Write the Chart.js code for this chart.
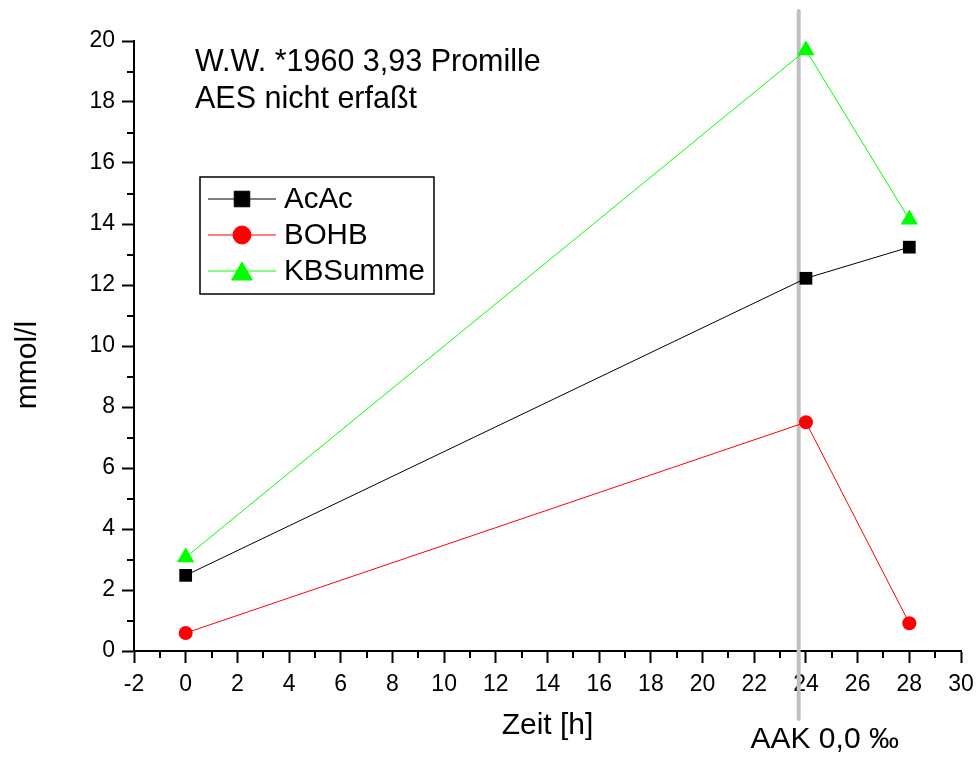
<!DOCTYPE html>
<html>
<head>
<meta charset="utf-8">
<script src="https://cdn.jsdelivr.net/npm/chart.js@4.4.1/dist/chart.umd.min.js"></script>
<style>
  html, body { margin: 0; padding: 0; background: #fff; }
  #wrap { width: 978px; height: 758px; }
</style>
</head>
<body>
<div id="wrap"><canvas id="ketoneChart" width="978" height="758"></canvas></div>
<script>
const zeit = [0, 24, 28];
const acac = [2.48, 12.22, 13.24];
const bohb = [0.59, 7.5, 0.91];
const kbSumme = [3.07, 19.7, 14.15];
const markerZeit = 23.72;
const markerLabel = 'AAK 0,0 ‰';
const notes = ['W.W. *1960 3,93 Promille', 'AES nicht erfaßt'];

const FONT = '"Liberation Sans", Arial, sans-serif';

function pts(ys) {
  return zeit.map((x, i) => ({ x: x, y: ys[i] }));
}

// minor ticks, the AAK marker line, text notes, legend box, y title
const extras = {
  id: 'extras',
  beforeDatasetsDraw(chart) {
    const { ctx, scales: { x } } = chart;
    const px = x.getPixelForValue(markerZeit);
    ctx.save();
    ctx.strokeStyle = '#c0c0c0';
    ctx.lineWidth = 4;
    ctx.lineCap = 'round';
    ctx.beginPath();
    ctx.moveTo(px, 11);
    ctx.lineTo(px, 719);
    ctx.stroke();
    ctx.restore();
  },
  afterDraw(chart) {
    const { ctx, scales: { x, y }, chartArea } = chart;
    ctx.save();
    ctx.strokeStyle = '#000';
    ctx.lineWidth = 2;
    ctx.beginPath();
    for (let v = -1; v < 30; v += 2) {
      const px = Math.round(x.getPixelForValue(v));
      ctx.moveTo(px, chartArea.bottom);
      ctx.lineTo(px, chartArea.bottom + 7);
    }
    for (let v = 1; v < 20; v += 2) {
      const py = Math.round(y.getPixelForValue(v));
      ctx.moveTo(chartArea.left, py);
      ctx.lineTo(chartArea.left - 7, py);
    }
    ctx.stroke();

    ctx.fillStyle = '#000';
    ctx.font = '30.5px ' + FONT;
    ctx.textAlign = 'left';
    ctx.textBaseline = 'alphabetic';
    ctx.fillText(notes[0], 195, 71);
    ctx.fillText(notes[1], 195, 108);

    ctx.font = '30px ' + FONT;
    ctx.textAlign = 'center';
    ctx.fillText(markerLabel, x.getPixelForValue(markerZeit) + 26, 748);

    // y axis title
    ctx.save();
    ctx.translate(36, 365);
    ctx.rotate(-Math.PI / 2);
    ctx.textAlign = 'center';
    ctx.fillText('mmol/l', 0, 0);
    ctx.restore();

    // legend
    ctx.font = '29.5px ' + FONT;
    ctx.lineWidth = 1.5;
    ctx.strokeRect(200, 177, 234, 117);
    chart.data.datasets.forEach((ds, i) => {
      const cy = 199 + i * 36;
      ctx.strokeStyle = ds.borderColor;
      ctx.lineWidth = 1;
      ctx.beginPath();
      ctx.moveTo(208, cy);
      ctx.lineTo(276, cy);
      ctx.stroke();
      ctx.fillStyle = ds.pointBackgroundColor;
      ctx.strokeStyle = ds.pointBackgroundColor;
      Chart.helpers.drawPoint(ctx, {
        pointStyle: ds.pointStyle,
        rotation: 0,
        borderWidth: 1,
        radius: ds.pointRadius + 2
      }, 242, ds.pointStyle === 'triangle' ? cy + 3 : cy);
      ctx.fillStyle = '#000';
      ctx.textAlign = 'left';
      ctx.fillText(ds.label, 284, cy + 9);
    });
    ctx.restore();
  }
};

new Chart(document.getElementById('ketoneChart'), {
  type: 'line',
  data: {
    datasets: [
      {
        label: 'AcAc',
        data: pts(acac),
        borderColor: '#000000',
        borderWidth: 1,
        pointStyle: 'rect',
        pointRadius: 9,
        pointBackgroundColor: '#000000',
        pointBorderColor: '#000000',
        pointBorderWidth: 0
      },
      {
        label: 'BOHB',
        data: pts(bohb),
        borderColor: '#ff0000',
        borderWidth: 1,
        pointStyle: 'circle',
        pointRadius: 7,
        pointBackgroundColor: '#ff0000',
        pointBorderColor: '#ff0000',
        pointBorderWidth: 0
      },
      {
        label: 'KBSumme',
        data: pts(kbSumme),
        borderColor: '#00ff00',
        borderWidth: 1,
        pointStyle: 'triangle',
        pointRadius: 10,
        pointBackgroundColor: '#00ff00',
        pointBorderColor: '#00ff00',
        pointBorderWidth: 0
      }
    ]
  },
  options: {
    responsive: false,
    animation: false,
    layout: { padding: { top: 41, right: 17, bottom: 0, left: 0 } },
    plugins: { legend: { display: false }, tooltip: { enabled: false } },
    scales: {
      x: {
        type: 'linear',
        min: -2,
        max: 30,
        afterFit: (s) => { s.height = 107; s.paddingRight = 0; s.paddingLeft = 0; },
        border: { display: true, color: '#000', width: 2 },
        grid: { drawOnChartArea: false, tickLength: 12, tickWidth: 2, tickColor: '#000' },
        ticks: { stepSize: 2, color: '#000', padding: 8, maxRotation: 0, font: { family: FONT, size: 23 } },
        title: {
          display: true,
          text: 'Zeit [h]',
          color: '#000',
          font: { family: FONT, size: 30 },
          padding: { top: 0, bottom: 14 }
        }
      },
      y: {
        min: 0,
        max: 20,
        afterFit: (s) => { s.width = 134; s.paddingTop = 0; s.paddingBottom = 0; },
        border: { display: true, color: '#000', width: 2 },
        grid: { drawOnChartArea: false, tickLength: 12, tickWidth: 2, tickColor: '#000' },
        ticks: { stepSize: 2, color: '#000', padding: 7, font: { family: FONT, size: 23 } }
      }
    }
  },
  plugins: [extras]
});
</script>
</body>
</html>
